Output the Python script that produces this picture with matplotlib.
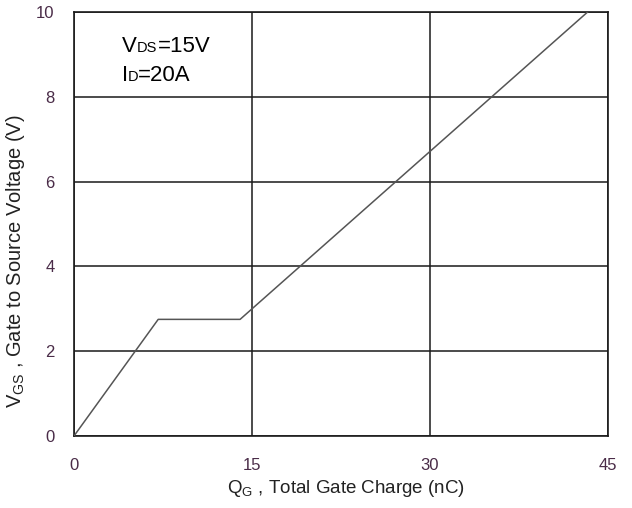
import matplotlib
matplotlib.use("Agg")
import matplotlib.pyplot as plt

# gate charge curve
qg = [0, 7.1, 14.0, 43.3]
vgs = [0, 2.75, 2.75, 10]

x_ticks = [0, 15, 30, 45]
y_ticks = [0, 2, 4, 6, 8, 10]

sans = ['Liberation Sans', 'DejaVu Sans']
tick_color = '#4a2c48'

fig = plt.figure(figsize=(6.32, 5.08), dpi=100)
ax = fig.add_axes([0.117, 0.1417, 0.845, 0.835])

ax.plot(qg, vgs, color='#555555', lw=1.1, zorder=3)

ax.set_xlim(0, 45)
ax.set_ylim(0, 10)
ax.set_xticks(x_ticks)
ax.set_yticks(y_ticks)
ax.grid(True, color='#1a1a1a', lw=1.1)
ax.set_axisbelow(True)
for s in ax.spines.values():
    s.set_color('#1a1a1a')
    s.set_linewidth(1.2)

ax.tick_params(axis='both', length=0, labelcolor=tick_color, labelsize=12)
ax.tick_params(axis='x', pad=16)
ax.tick_params(axis='y', pad=14)
for lab in ax.get_xticklabels() + ax.get_yticklabels():
    lab.set_family(sans)

ax.set_xlabel(r'Q$_\mathregular{G}$ , Total Gate Charge (nC)', fontsize=13.5,
              family=sans, color='#222222')
ax.xaxis.set_label_coords(0.51, -0.1)
ax.set_ylabel(r'V$_\mathregular{GS}$ , Gate to Source Voltage (V)', fontsize=14.5,
              family=sans, color='#222222')
ax.yaxis.set_label_coords(-0.088, 0.413)

# conditions text, small-caps style subscripts
ax.text(0.09, 0.906, 'V', transform=ax.transAxes, fontsize=16, family=sans)
ax.text(0.118, 0.906, 'DS', transform=ax.transAxes, fontsize=10.5, family=sans)
ax.text(0.157, 0.906, '=15V', transform=ax.transAxes, fontsize=16, family=sans)
ax.text(0.09, 0.837, 'I', transform=ax.transAxes, fontsize=16, family=sans)
ax.text(0.1, 0.837, 'D', transform=ax.transAxes, fontsize=10.5, family=sans)
ax.text(0.12, 0.837, '=20A', transform=ax.transAxes, fontsize=16, family=sans)

fig.savefig('out.png', dpi=100)
